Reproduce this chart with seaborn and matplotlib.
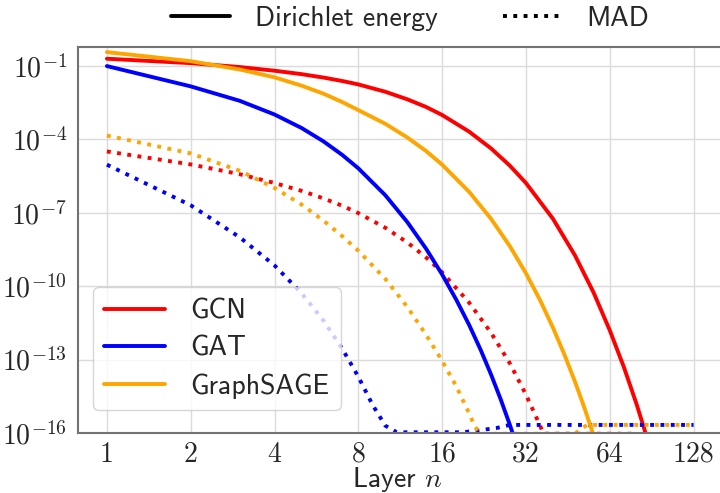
import numpy as np
import pandas as pd
import matplotlib
matplotlib.use('Agg')
import matplotlib.pyplot as plt
from matplotlib.lines import Line2D
from matplotlib.ticker import NullLocator, FuncFormatter
import seaborn as sns

models = ['GCN', 'GAT', 'GraphSAGE']
metrics = ['Dirichlet energy', 'MAD']
colors = {'GCN': '#ff0000', 'GAT': '#0000ff', 'GraphSAGE': '#ffa500'}

# values, stored as log10
gcn_de_layers = [1, 2, 3, 4, 5, 6, 7, 8, 10, 12, 14, 16, 20, 24, 28, 32, 40, 48, 56, 64, 72, 80, 88]
gcn_de_log = [-0.70, -0.88, -1.04, -1.19, -1.33, -1.47, -1.61, -1.75, -2.05, -2.36, -2.67,
              -3.00, -3.68, -4.37, -5.07, -5.78, -7.24, -8.74, -10.26, -11.8, -13.32,
              -14.84, -16.36]

gat_de_layers = [1, 2, 3, 4, 5, 6, 7, 8, 10, 12, 14, 16, 18, 20, 22, 24, 26, 28, 30]
gat_de_log = [-1.0, -1.83, -2.42, -2.98, -3.53, -4.08, -4.63, -5.18, -6.28, -7.38, -8.46,
              -9.52, -10.56, -11.58, -12.6, -13.62, -14.64, -15.66, -16.68]

sage_de_layers = [1, 2, 3, 4, 5, 6, 7, 8, 10, 12, 14, 16, 20, 24, 28, 32, 36, 40, 44, 48, 52, 56, 60]
sage_de_log = [-0.43, -0.80, -1.14, -1.46, -1.80, -2.13, -2.47, -2.80, -3.36, -3.92, -4.47,
               -5.03, -6.14, -7.25, -8.36, -9.47, -10.58, -11.69, -12.8, -13.9, -15.0,
               -16.1, -17.2]

gcn_mad_layers = [1, 2, 3, 4, 5, 6, 7, 8, 10, 12, 14, 16, 20, 24, 28, 32, 36, 37, 77, 80]
gcn_mad_log = [-4.49, -5.02, -5.42, -5.78, -6.10, -6.41, -6.71, -7.01, -7.61, -8.21, -8.82,
               -9.43, -10.67, -11.91, -13.15, -14.43, -15.71, -16.03, -16.03, -17.0]

gat_mad_layers = [1, 2, 3, 4, 5, 6, 7, 8, 9, 10, 11, 19, 25, 28, 128]
gat_mad_log = [-5.03, -6.69, -8.0, -9.15, -10.28, -11.41, -12.55, -13.7, -14.85, -15.7,
               -15.97, -15.97, -15.8, -15.67, -15.67]

sage_mad_layers = [1, 2, 3, 4, 5, 6, 7, 8, 10, 12, 14, 16, 18, 20, 21, 22, 48, 53, 128]
sage_mad_log = [-3.84, -4.57, -5.28, -5.98, -6.66, -7.32, -7.95, -8.55, -9.7, -10.85, -11.98,
                -13.05, -14.1, -15.2, -15.75, -16.03, -16.03, -15.67, -15.67]

x_ticks = [1, 2, 4, 8, 16, 32, 64, 128]
y_ticks = [1e-16, 1e-13, 1e-10, 1e-7, 1e-4, 1e-1]

series = [
    ('GCN', 'Dirichlet energy', gcn_de_layers, gcn_de_log),
    ('GAT', 'Dirichlet energy', gat_de_layers, gat_de_log),
    ('GraphSAGE', 'Dirichlet energy', sage_de_layers, sage_de_log),
    ('GCN', 'MAD', gcn_mad_layers, gcn_mad_log),
    ('GAT', 'MAD', gat_mad_layers, gat_mad_log),
    ('GraphSAGE', 'MAD', sage_mad_layers, sage_mad_log),
]
frames = []
for model, metric, layers, logs in series:
    frames.append(pd.DataFrame({'layer': layers, 'value': 10.0 ** np.array(logs),
                                'model': model, 'metric': metric}))
df = pd.concat(frames, ignore_index=True)

sns.set_theme(style='whitegrid')
plt.rcParams['mathtext.fontset'] = 'cm'
plt.rcParams['axes.edgecolor'] = '0.45'
plt.rcParams['axes.linewidth'] = 1.5
plt.rcParams['grid.color'] = '0.86'

fig = plt.figure(figsize=(7.2, 4.93), dpi=100)
ax = fig.add_axes([0.1083, 0.1217, 0.919, 0.783])

sns.lineplot(data=df, x='layer', y='value', hue='model', style='metric',
             hue_order=models, style_order=metrics, palette=colors,
             dashes={'Dirichlet energy': '', 'MAD': (1, 1.65)},
             estimator=None, sort=False, linewidth=2.8, legend=False, ax=ax)

ax.set_xscale('log', base=2)
ax.set_yscale('log')
ax.set_xlim(2 ** -0.345, 2 ** 7.55)
ax.set_ylim(1e-16, 10 ** -0.22)
ax.set_xticks(x_ticks)
ax.set_xticklabels([str(t) for t in x_ticks], fontfamily='cmr10', fontsize=20)
ax.set_yticks(y_ticks)
ax.yaxis.set_major_formatter(FuncFormatter(lambda v, p: f'$10^{{{int(round(np.log10(v)))}}}$'))
ax.xaxis.set_minor_locator(NullLocator())
ax.yaxis.set_minor_locator(NullLocator())
ax.tick_params(axis='y', labelsize=20, pad=2)
ax.tick_params(axis='x', pad=0)
ax.set_xlabel('Layer $n$', fontfamily='cmss10', fontsize=20)
ax.xaxis.set_label_coords(0.483, -0.083)
ax.set_ylabel('')

# legend for the models
model_handles = [Line2D([], [], color=colors[m], lw=2.8) for m in models]
ax.legend(model_handles, models, loc='lower left', bbox_to_anchor=(0.023, 0.06),
          borderaxespad=0, prop={'family': 'cmss10', 'size': 20},
          handlelength=2.2, handletextpad=0.9, labelspacing=0.45, framealpha=0.8)

# legend for the line styles
metric_handles = [Line2D([], [], color='black', lw=2.8, ls='-'),
                  Line2D([], [], color='black', lw=2.8, ls=':')]
fig.legend(metric_handles, metrics, loc='center', bbox_to_anchor=(0.5695, 0.963),
           ncol=2, frameon=False, prop={'family': 'cmss10', 'size': 20},
           handlelength=2.1, handletextpad=0.9, columnspacing=2.35)

fig.savefig('out.png', dpi=100)
